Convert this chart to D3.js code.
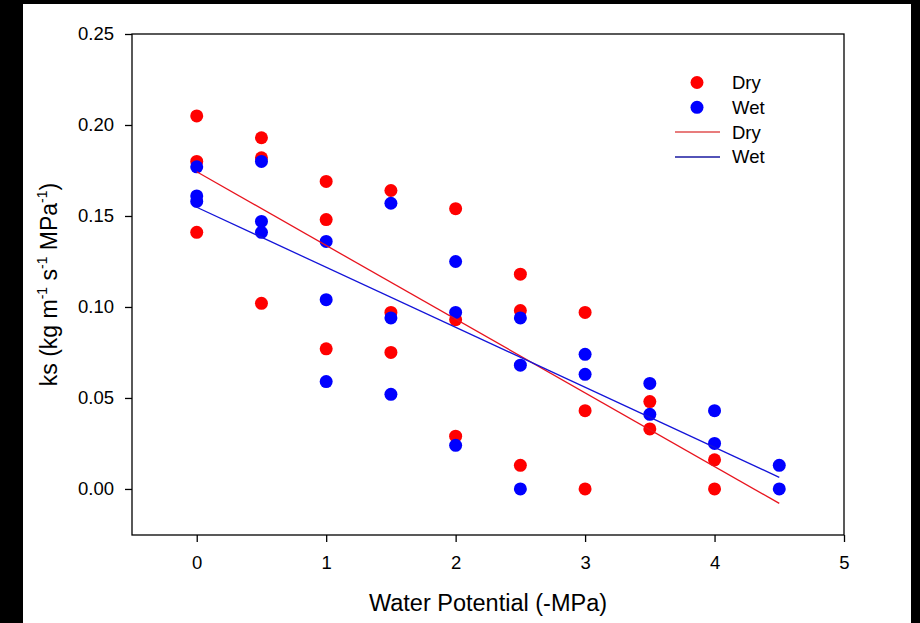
<!DOCTYPE html>
<html>
<head>
<meta charset="utf-8">
<script src="https://cdn.jsdelivr.net/npm/d3@7"></script>
<style>
  html, body { margin: 0; padding: 0; background: #000; }
  svg { display: block; }
  text { font-family: "Liberation Sans", Arial, sans-serif; fill: #000; }
</style>
</head>
<body>
<script>
// Data
const dryX = [0, 0, 0, 0.5, 0.5, 0.5, 1, 1, 1, 1.5, 1.5, 1.5, 2, 2, 2, 2.5, 2.5, 2.5, 3, 3, 3, 3.5, 3.5, 4, 4];
const dryY = [0.205, 0.180, 0.141, 0.193, 0.182, 0.102, 0.169, 0.148, 0.077, 0.164, 0.097, 0.075,
              0.154, 0.093, 0.029, 0.118, 0.098, 0.013, 0.097, 0.043, 0.000, 0.048, 0.033, 0.016, 0.000];
const wetX = [0, 0, 0, 0.5, 0.5, 0.5, 1, 1, 1, 1.5, 1.5, 1.5, 2, 2, 2, 2.5, 2.5, 2.5, 3, 3, 3.5, 3.5, 4, 4, 4.5, 4.5];
const wetY = [0.177, 0.161, 0.158, 0.180, 0.147, 0.141, 0.136, 0.104, 0.059, 0.157, 0.094, 0.052,
              0.125, 0.097, 0.024, 0.094, 0.068, 0.000, 0.074, 0.063, 0.058, 0.041, 0.043, 0.025, 0.013, 0.000];

// Regression lines (end points)
const fitX = [0, 4.5];
const dryFit = [0.1743, -0.0079];
const wetFit = [0.1548, 0.0064];

const xTicks = [0, 1, 2, 3, 4, 5];
const yTicks = [0, 0.05, 0.10, 0.15, 0.20, 0.25];

const width = 920, height = 623;
const margin = {left: 132, right: 76, top: 34, bottom: 88};

const svg = d3.select('body').append('svg')
    .attr('width', width)
    .attr('height', height);

// white page inside the black border
svg.append('rect')
    .attr('x', 23).attr('y', 4)
    .attr('width', 888).attr('height', height - 4)
    .attr('fill', '#fff');

const x = d3.scaleLinear().domain([-0.5, 5]).range([margin.left, width - margin.right]);
const y = d3.scaleLinear().domain([-0.0253, 0.25]).range([height - margin.bottom, margin.top]);

// axes
const xAxis = svg.append('g')
    .attr('transform', 'translate(0,' + (height - margin.bottom) + ')')
    .call(d3.axisBottom(x).tickValues(xTicks).tickFormat(d3.format('d')).tickSize(7).tickPadding(14));
const yAxis = svg.append('g')
    .attr('transform', 'translate(' + margin.left + ',0)')
    .call(d3.axisLeft(y).tickValues(yTicks).tickFormat(d3.format('.2f')).tickSize(7).tickPadding(11));

[xAxis, yAxis].forEach(g => {
    g.select('.domain').remove();
    g.selectAll('.tick line').attr('stroke', '#000').attr('stroke-width', 1.3);
    g.selectAll('.tick text')
        .attr('font-size', 18.5)
        .attr('font-family', '"Liberation Sans", Arial, sans-serif');
});

// frame
svg.append('rect')
    .attr('x', x(-0.5)).attr('y', y(0.25))
    .attr('width', x(5) - x(-0.5))
    .attr('height', y(-0.0253) - y(0.25))
    .attr('fill', 'none')
    .attr('stroke', '#000')
    .attr('stroke-width', 1.3);

// points
const dry = dryX.map((d, i) => ({x: d, y: dryY[i]}));
const wet = wetX.map((d, i) => ({x: d, y: wetY[i]}));

svg.append('g').selectAll('circle')
    .data(dry).enter()
    .append('circle')
    .attr('cx', d => x(d.x))
    .attr('cy', d => y(d.y))
    .attr('r', 6.5)
    .attr('fill', '#ff0000');

svg.append('g').selectAll('circle')
    .data(wet).enter()
    .append('circle')
    .attr('cx', d => x(d.x))
    .attr('cy', d => y(d.y))
    .attr('r', 6.5)
    .attr('fill', '#0000ff');

// fit lines
const line = d3.line().x(d => x(d[0])).y(d => y(d[1]));
svg.append('path')
    .attr('d', line(fitX.map((d, i) => [d, dryFit[i]])))
    .attr('fill', 'none').attr('stroke', '#e8141e').attr('stroke-width', 1.3);
svg.append('path')
    .attr('d', line(fitX.map((d, i) => [d, wetFit[i]])))
    .attr('fill', 'none').attr('stroke', '#1414d8').attr('stroke-width', 1.3);

// legend
const legend = svg.append('g').attr('transform', 'translate(697,82.5)');
const legendRows = [
    {label: 'Dry', kind: 'dot', color: '#ff0000'},
    {label: 'Wet', kind: 'dot', color: '#0000ff'},
    {label: 'Dry', kind: 'line', color: '#e05050'},
    {label: 'Wet', kind: 'line', color: '#1a1aa0'}
];
legendRows.forEach((r, i) => {
    const g = legend.append('g').attr('transform', 'translate(0,' + (i * 24.8) + ')');
    if (r.kind === 'dot') {
        g.append('circle').attr('r', 6.5).attr('fill', r.color);
    } else {
        g.append('line').attr('x1', -22).attr('x2', 23)
            .attr('stroke', r.color).attr('stroke-width', 1.5);
    }
    g.append('text')
        .attr('x', 35)
        .attr('dy', '0.35em')
        .attr('font-size', 18.5)
        .text(r.label);
});

// axis titles
svg.append('text')
    .attr('x', (x(-0.5) + x(5)) / 2)
    .attr('y', 611)
    .attr('text-anchor', 'middle')
    .attr('font-size', 23.5)
    .text('Water Potential (-MPa)');

const yt = svg.append('text')
    .attr('transform', 'translate(57,' + ((y(0.25) + y(-0.0253)) / 2) + ') rotate(-90)')
    .attr('text-anchor', 'middle')
    .attr('font-size', 23);
yt.append('tspan').text('ks (kg m');
yt.append('tspan').attr('font-size', 14).attr('dy', -10).text('-1');
yt.append('tspan').attr('dy', 10).text(' s');
yt.append('tspan').attr('font-size', 14).attr('dy', -10).text('-1');
yt.append('tspan').attr('dy', 10).text(' MPa');
yt.append('tspan').attr('font-size', 14).attr('dy', -10).text('-1');
yt.append('tspan').attr('dy', 10).text(')');
</script>
</body>
</html>
